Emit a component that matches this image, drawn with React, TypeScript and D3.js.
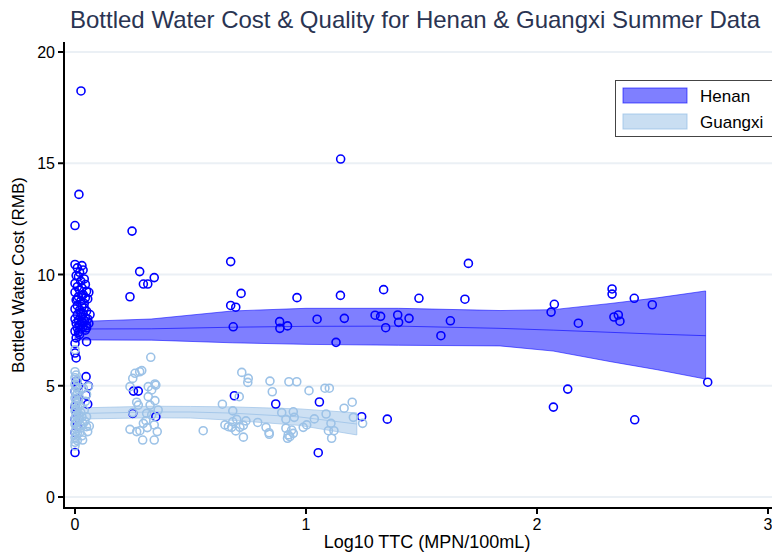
import React from "react";
import * as d3 from "d3";

// regression bands (lowess fit with 95% ci)
const henanFitX = [0, 0.33, 0.68, 1.0, 1.4, 1.84, 2.07, 2.32, 2.52, 2.73];
const henanFit = [7.55, 7.56, 7.63, 7.67, 7.68, 7.58, 7.5, 7.4, 7.32, 7.25];
const henanLo = [7.06, 7.05, 6.93, 6.86, 6.82, 6.79, 6.56, 6.08, 5.72, 5.3];
const henanHi = [7.88, 8.0, 8.36, 8.48, 8.48, 8.38, 8.42, 8.7, 8.95, 9.26];

const guangxiFitX = [0, 0.33, 0.5, 0.68, 0.97, 1.22];
const guangxiFit = [3.75, 3.82, 3.82, 3.77, 3.6, 3.28];
const guangxiLo = [3.5, 3.56, 3.55, 3.45, 3.22, 2.79];
const guangxiHi = [4.0, 4.08, 4.07, 4.05, 3.96, 3.78];

// [log10 TTC, cost]
const henanPoints: [number, number][] = [
  [0.0, 10.45], [0.03, 10.4], [0.01, 10.3], [0.02, 10.1], [0.035, 10.2], [0.005, 9.95],
  [0.015, 9.9], [0.04, 9.8], [0.025, 9.7], [0.0, 9.6], [0.045, 9.55], [0.01, 9.45],
  [0.03, 9.4], [0.02, 9.3], [0.05, 9.25], [0.0, 9.2], [0.035, 9.1], [0.015, 9.0],
  [0.045, 8.95], [0.005, 8.85], [0.025, 8.8], [0.04, 8.7], [0.01, 8.6], [0.03, 8.55],
  [0.0, 8.45], [0.02, 8.4], [0.05, 8.35], [0.035, 8.25], [0.01, 8.2], [0.025, 8.1],
  [0.045, 8.05], [0.0, 8.0], [0.015, 7.95], [0.04, 7.9], [0.03, 7.85], [0.005, 7.8],
  [0.02, 7.75], [0.05, 7.7], [0.035, 7.65], [0.01, 7.6], [0.025, 7.55], [0.045, 7.5],
  [0.0, 7.45], [0.015, 7.4], [0.03, 7.9], [0.055, 8.0], [0.06, 7.8], [0.02, 7.3],
  [0.005, 7.15], [0.055, 8.9], [0.06, 9.2], [0.01, 8.9], [0.03, 9.05], [0.025, 8.3],
  [0.04, 8.5], [0.05, 7.6], [0.065, 8.2], [0.0, 6.9], [0.05, 6.98],
  [0.0, 6.47], [0.005, 6.25], [0.0, 12.2], [0.017, 13.6], [0.026, 18.25],
  [0.048, 5.41], [0.058, 4.99], [0.014, 4.99], [0.048, 4.58], [0.055, 4.17], [0.0, 2.0],
  [0.005, 5.2], [0.0, 4.75], [0.01, 4.4], [0.0, 4.05], [0.005, 3.8], [0.0, 3.5],
  [0.01, 3.2], [0.0, 2.9],
  [0.247, 11.95], [0.28, 10.13], [0.238, 9.0], [0.296, 9.57], [0.315, 9.57], [0.343, 9.86],
  [0.253, 4.76], [0.274, 4.76], [0.25, 3.76], [0.35, 3.61],
  [0.674, 10.58], [0.719, 9.15], [0.674, 8.61], [0.696, 8.53], [0.685, 7.65],
  [0.961, 8.96], [0.886, 7.88], [0.887, 7.58], [0.92, 7.69], [1.048, 7.99],
  [1.149, 9.06], [1.166, 8.03], [1.13, 6.95], [1.336, 9.32], [1.299, 8.17],
  [1.323, 8.12], [1.345, 7.61], [1.397, 8.18], [1.401, 7.85], [1.446, 8.03],
  [1.15, 15.19], [1.489, 8.93], [1.688, 8.89], [1.703, 10.5], [1.584, 7.25], [1.625, 7.92],
  [0.69, 4.55], [0.869, 4.18], [1.058, 4.27], [1.241, 3.61], [1.352, 3.5], [1.053, 1.99],
  [2.075, 8.66], [2.061, 8.31], [2.179, 7.81], [2.325, 9.35], [2.325, 9.12], [2.421, 8.93],
  [2.499, 8.64], [2.333, 8.09], [2.352, 8.18], [2.359, 7.9], [2.739, 5.16], [2.133, 4.85],
  [2.071, 4.04], [2.423, 3.47],
];

const guangxiPoints: [number, number][] = [
  [0, 6.62], [0, 5.63], [0.005, 5.48], [0, 5.36], [0.01, 5.22], [0, 5.06], [0.005, 4.94],
  [0.015, 4.83], [0, 4.76], [0.01, 4.64], [0.005, 4.57], [0, 4.44], [0.015, 4.36],
  [0.005, 4.24], [0, 4.13], [0.01, 4.06], [0.005, 3.94], [0, 3.87], [0.015, 3.74],
  [0.005, 3.66], [0, 3.53], [0.01, 3.46], [0.005, 3.33], [0, 3.27], [0.015, 3.14],
  [0.005, 3.06], [0, 2.93], [0.01, 2.86], [0.005, 2.74], [0, 2.66], [0.01, 2.54],
  [0, 2.46], [0, 2.3], [0.02, 4.1], [0.025, 3.8], [0.02, 3.5], [0.025, 3.2], [0.02, 2.9],
  [0.03, 3.6], [0.035, 3.3], [0.036, 4.89], [0.058, 4.96], [0.05, 4.61], [0.05, 3.61],
  [0.05, 3.16], [0.055, 2.94], [0.033, 2.56], [0.062, 3.19], [0.043, 3.4], [0.04, 3.9],
  [0.045, 4.3], [0.03, 2.75],
  [0.25, 5.33], [0.26, 5.56], [0.28, 5.63], [0.289, 5.68], [0.238, 4.96], [0.317, 4.96],
  [0.346, 5.08], [0.267, 4.26], [0.274, 4.13], [0.317, 4.51], [0.325, 4.13], [0.346, 4.33],
  [0.25, 3.79], [0.31, 3.76], [0.332, 3.69], [0.238, 3.04], [0.267, 2.94], [0.281, 2.98],
  [0.296, 3.31], [0.307, 3.43], [0.313, 3.12], [0.343, 3.24], [0.293, 2.56], [0.343, 2.56],
  [0.328, 6.28], [0.35, 5.03], [0.332, 4.81], [0.36, 3.91], [0.356, 2.94],
  [0.722, 5.6], [0.75, 5.33], [0.748, 5.15], [0.844, 5.21], [0.854, 4.73], [0.926, 5.18],
  [0.96, 5.18], [1.013, 4.78], [1.082, 4.89], [1.101, 4.89], [0.711, 4.51], [0.638, 4.17],
  [0.683, 3.87], [0.555, 2.98], [0.649, 3.24], [0.664, 3.16], [0.678, 3.13], [0.7, 3.49],
  [0.696, 2.97], [0.714, 3.13], [0.729, 3.22], [0.74, 3.42], [0.729, 2.69], [0.791, 3.35],
  [0.827, 3.13], [0.84, 2.89], [0.841, 2.82], [0.895, 3.79], [0.945, 3.83], [0.913, 3.49],
  [0.949, 3.58], [0.913, 3.09], [0.923, 2.79], [0.938, 3.01], [0.945, 2.86], [0.92, 2.64],
  [0.93, 2.71], [0.988, 3.13], [1.003, 3.24], [1.036, 3.51], [1.087, 3.73], [1.165, 3.99],
  [1.2, 4.26], [1.205, 3.58], [1.245, 3.31], [1.108, 3.31], [1.097, 2.98], [1.121, 2.98],
  [1.111, 2.64], [0.683, 3.38],
];

const xTicks = [0, 1, 2, 3];
const yTicks = [0, 5, 10, 15, 20];

const FONT = "'Liberation Sans', Arial, Helvetica, sans-serif";
const HENAN = "#0000ff";
const GUANGXI = "#9cc2e7";

export default function App() {
  const W = 772;
  const H = 554;
  const axisX = 64;
  const axisY = 508;
  const x = d3.scaleLinear().domain([0, 3]).range([75, 768]);
  const y = d3.scaleLinear().domain([0, 20]).range([497, 52]);

  const band = (xs: number[], lo: number[], hi: number[]) =>
    d3
      .area<number>()
      .x((i) => x(xs[i]))
      .y0((i) => y(lo[i]))
      .y1((i) => y(hi[i]))(xs.map((_, i) => i)) || "";
  const line = (xs: number[], ys: number[]) =>
    d3
      .line<number>()
      .x((i) => x(xs[i]))
      .y((i) => y(ys[i]))(xs.map((_, i) => i)) || "";

  return (
    <svg
      width={W}
      height={H}
      style={{ position: "absolute", left: 0, top: 0, background: "#fff" }}
      fontFamily={FONT}
    >
      <text x={70} y={28} fontSize={24} fill="#2a3452">
        Bottled Water Cost &amp; Quality for Henan &amp; Guangxi Summer Data
      </text>

      {/* grid */}
      {yTicks.map((t) => (
        <line key={t} x1={axisX} x2={W} y1={y(t)} y2={y(t)} stroke="#ebf0f5" strokeWidth={2} />
      ))}

      {/* bands */}
      <path d={band(henanFitX, henanLo, henanHi)} fill="rgba(0,0,255,0.5)" stroke="rgba(0,0,255,0.55)" strokeWidth={1} />
      <path d={line(henanFitX, henanFit)} fill="none" stroke="rgba(0,0,255,0.6)" strokeWidth={1} />
      <path d={band(guangxiFitX, guangxiLo, guangxiHi)} fill="rgba(156,194,231,0.5)" stroke="rgba(156,194,231,0.7)" strokeWidth={1} />
      <path d={line(guangxiFitX, guangxiFit)} fill="none" stroke="rgba(156,194,231,0.8)" strokeWidth={1} />

      {/* points */}
      {henanPoints.map((d, i) => (
        <circle key={"h" + i} cx={x(d[0])} cy={y(d[1])} r={4} fill="none" stroke={HENAN} strokeWidth={1.6} />
      ))}
      {guangxiPoints.map((d, i) => (
        <circle key={"g" + i} cx={x(d[0])} cy={y(d[1])} r={4} fill="none" stroke={GUANGXI} strokeWidth={1.6} />
      ))}

      {/* y axis */}
      <line x1={axisX} x2={axisX} y1={42} y2={axisY + 1} stroke="#000" strokeWidth={2} />
      {yTicks.map((t) => (
        <g key={t}>
          <line x1={axisX - 6} x2={axisX} y1={y(t)} y2={y(t)} stroke="#000" strokeWidth={2} />
          <text x={axisX - 9} y={y(t) + 6} fontSize={16} textAnchor="end" fill="#000">
            {t}
          </text>
        </g>
      ))}
      <text
        transform={`translate(24,${275}) rotate(-90)`}
        fontSize={17}
        textAnchor="middle"
        fill="#000"
      >
        Bottled Water Cost (RMB)
      </text>

      {/* x axis */}
      <line x1={axisX - 1} x2={W} y1={axisY} y2={axisY} stroke="#000" strokeWidth={2} />
      {xTicks.map((t) => (
        <g key={t}>
          <line x1={x(t)} x2={x(t)} y1={axisY} y2={axisY + 6} stroke="#000" strokeWidth={2} />
          <text x={x(t)} y={axisY + 22} fontSize={16} textAnchor="middle" fill="#000">
            {t}
          </text>
        </g>
      ))}
      <text x={427} y={548} fontSize={18} textAnchor="middle" fill="#000">
        Log10 TTC (MPN/100mL)
      </text>

      {/* legend */}
      <rect x={615.5} y={80.5} width={170} height={56} fill="#fff" stroke="#444" strokeWidth={1} />
      <rect x={623} y={88} width={64} height={15} fill="rgba(0,0,255,0.5)" stroke="rgba(0,0,255,0.6)" />
      <rect x={623} y={114} width={64} height={15} fill="rgba(156,194,231,0.55)" stroke="rgba(156,194,231,0.8)" />
      <text x={700} y={102} fontSize={17} fill="#000">Henan</text>
      <text x={700} y={128} fontSize={17} fill="#000">Guangxi</text>
    </svg>
  );
}
